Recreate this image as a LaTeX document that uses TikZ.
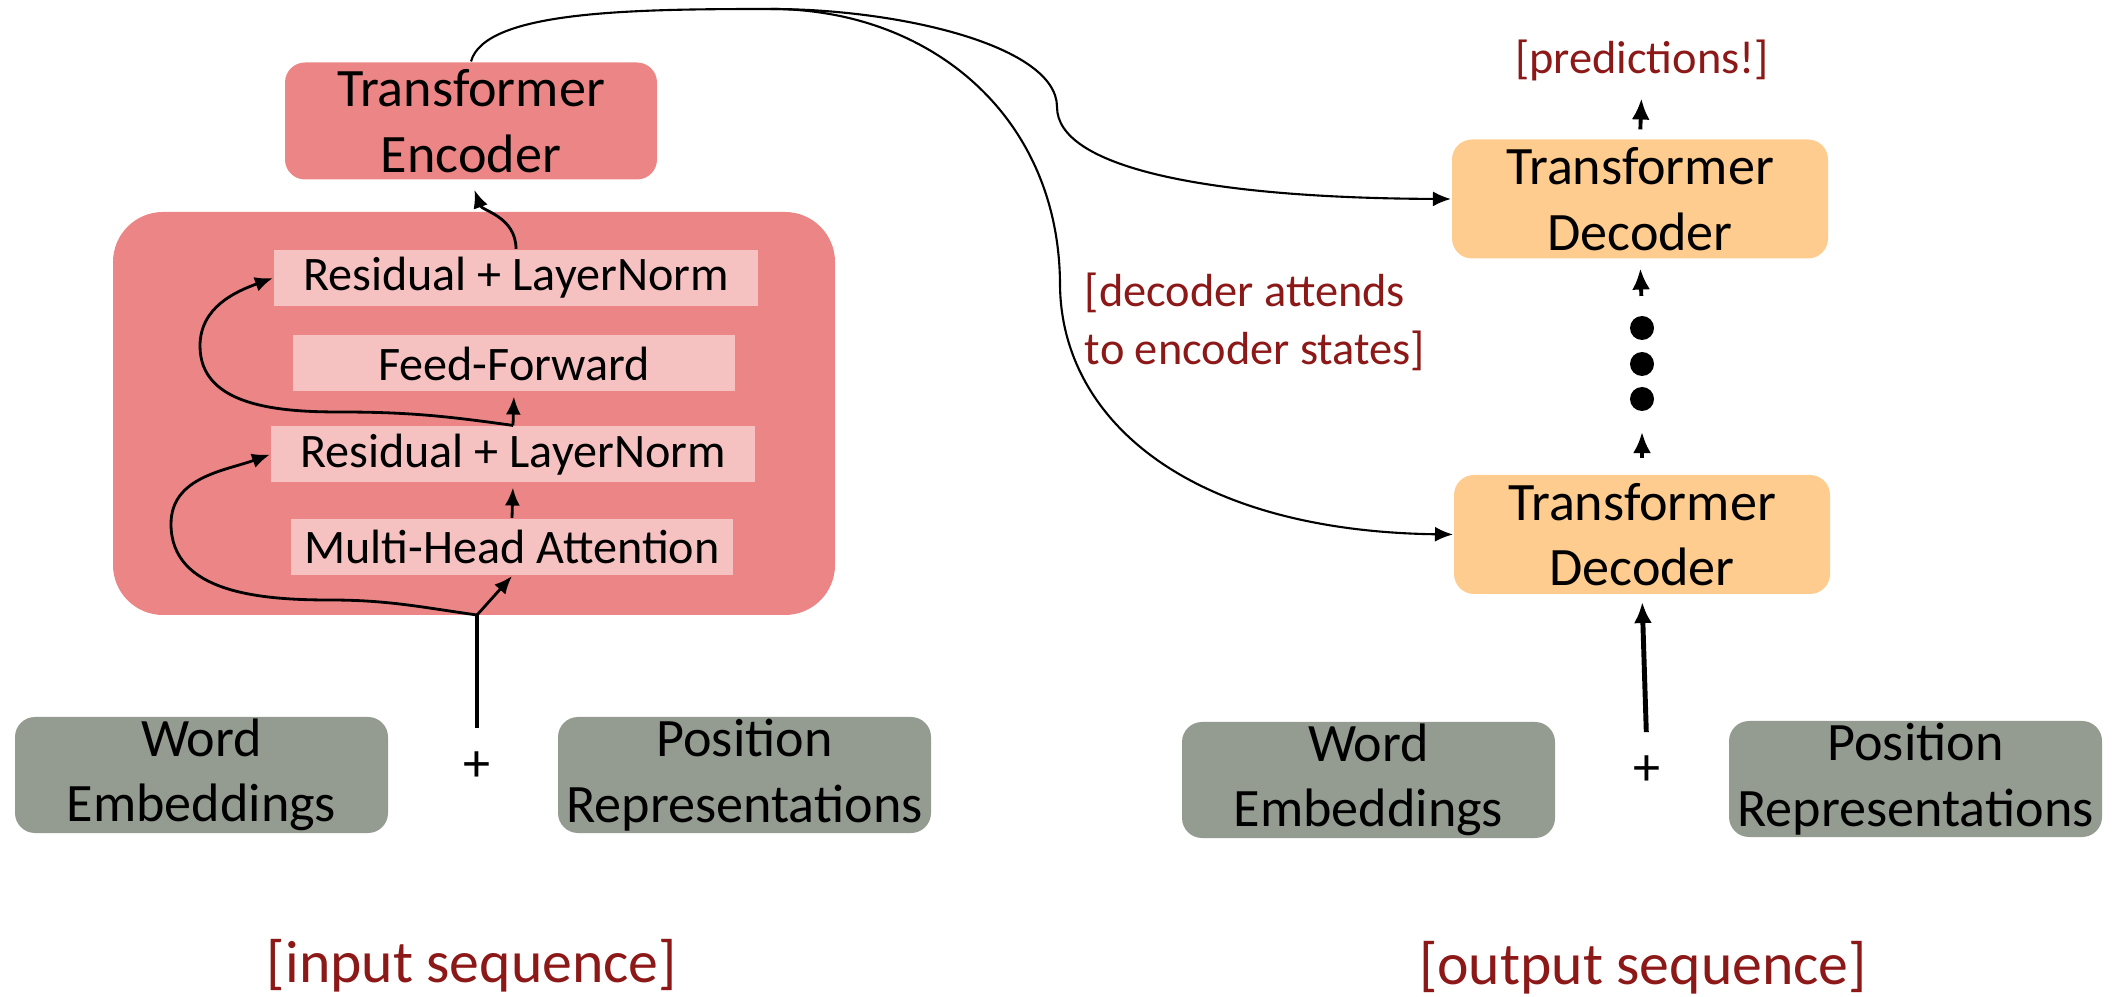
\documentclass[tikz,border=0pt]{standalone}
\usepackage{fontspec}
\setmainfont{Carlito}
\usetikzlibrary{arrows.meta}
\definecolor{encred}{RGB}{236,134,134}
\definecolor{sublayer}{RGB}{245,193,193}
\definecolor{decorange}{RGB}{255,204,144}
\definecolor{embgray}{RGB}{148,155,144}
\definecolor{notered}{RGB}{140,24,24}

\begin{document}
\begin{tikzpicture}[->,semithick,>={Latex[length=1.8mm,width=1.5mm]},
    big/.style={font=\fontsize{15.4}{18.6}\selectfont, align=center, inner sep=0pt},
    encbox/.style={big, fill=encred, rounded corners=2mm, minimum width=3.72cm, minimum height=1.17cm},
    layerbg/.style={fill=encred, rounded corners=5mm, minimum width=7.22cm, minimum height=4.03cm},
    sub/.style={font=\fontsize{13.7}{16.5}\selectfont, fill=sublayer, inner sep=0pt, minimum height=0.56cm},
    decbox/.style={big, fill=decorange, rounded corners=2mm, minimum width=3.76cm, minimum height=1.19cm},
    embbox/.style={big, fill=embgray, rounded corners=2mm, minimum width=3.73cm, minimum height=1.16cm},
    plus/.style={font=\fontsize{15.4}{18.6}\selectfont, inner sep=0pt},
    note/.style={font=\fontsize{13.2}{16.5}\selectfont, text=notered, inner sep=0pt},
    seq/.style={font=\fontsize{17}{20}\selectfont, text=notered, inner sep=0pt},
    dot/.style={circle, fill=black, inner sep=0pt, minimum size=2.4mm},
    flow/.style={line width=1.1pt, -{Latex[length=2.1mm,width=1.8mm]}},
    stem/.style={line width=1.4pt}]
      \useasboundingbox (0,0) rectangle (21.17,9.96);
      \node[layerbg] (blk) at (4.74,5.825) {};
      \node[encbox] (enc) at (4.71,8.75) {Transformer\\Encoder};
      \node[sub, minimum width=4.84cm] (res2) at (5.16,7.18) {Residual + LayerNorm};
      \node[sub, minimum width=4.42cm] (ff) at (5.14,6.325) {Feed-Forward};
      \node[sub, minimum width=4.84cm] (res1) at (5.13,5.415) {Residual + LayerNorm};
      \node[sub, minimum width=4.42cm] (mha) at (5.12,4.49) {Multi-Head Attention};
      \coordinate (inp) at (4.77,3.81);
      \node[embbox] (wemb1) at (2.015,2.21) {Word\\Embeddings};
      \node[plus] (plus1) at (4.77,2.29) {+};
      \node[embbox] (pemb1) at (7.445,2.21) {Position\\Representations};
      \node[seq] (inseq) at (4.72,0.30) {[input sequence]};
      \node[decbox] (dec1) at (16.42,4.615) {Transformer\\Decoder};
      \node[dot] (dt3) at (16.42,5.97) {};
      \node[dot] (dt2) at (16.42,6.32) {};
      \node[dot] (dt1) at (16.42,6.68) {};
      \node[decbox] (dec2) at (16.40,7.97) {Transformer\\Decoder};
      \node[note] (pred) at (16.42,9.36) {[predictions!]};
      \node[note, align=left] (attn) at (12.55,6.74) {[decoder attends\\to encoder states]};
      \node[embbox] (wemb2) at (13.685,2.16) {Word\\Embeddings};
      \node[plus] (plus2) at (16.47,2.25) {+};
      \node[embbox] (pemb2) at (19.155,2.17) {Position\\Representations};
      \node[seq] (outseq) at (16.43,0.28) {[output sequence]};
      \coordinate (hub) at (7.71,9.87);
      \path[-,stem,shorten <=2.3mm] (plus1.north) edge (inp);
      \path[thick] (inp) edge (mha.south);
      \path[thick,shorten >=0.4mm] (mha.north) edge (res1.south);
      \path[thick,shorten >=0.4mm] (res1.north) edge (ff.south);
      \path[thick,shorten >=1mm] (res2.north) edge[out=90,in=-70] (enc.south);
      \draw[thick] (inp) to[out=172,in=0] (3.3,3.96) to[out=180,in=-90] (1.71,4.72) to[out=90,in=200] (res1.west);
      \draw[thick] (res1.north) to[out=172,in=0] (3.4,5.84) to[out=180,in=-90] (2.0,6.5) to[out=90,in=200] (res2.west);
      \draw (enc.north) .. controls (4.85,9.85) and (6.3,9.87) .. (hub)
        .. controls (9.0,9.87) and (10.57,9.5) .. (10.57,8.89)
        .. controls (10.57,8.3) and (12.0,7.98) .. (dec2.west);
      \draw (hub) .. controls (9.3,9.87) and (10.6,8.8) .. (10.6,7.1)
        .. controls (10.62,5.75) and (11.9,4.65) .. (dec1.west);
      \path[flow,stem,shorten <=2.3mm,shorten >=0.7mm] (plus2.north) edge (dec1.south);
      \path[flow,shorten <=1.6mm,shorten >=2mm] (dec1.north) edge (dt3.south);
      \path[flow,shorten <=1.9mm,shorten >=0.9mm] (dt1.north) edge (dec2.south);
      \path[flow,shorten <=0.9mm,shorten >=1.7mm] (dec2.north) edge (pred.south);
\end{tikzpicture}
\end{document}
